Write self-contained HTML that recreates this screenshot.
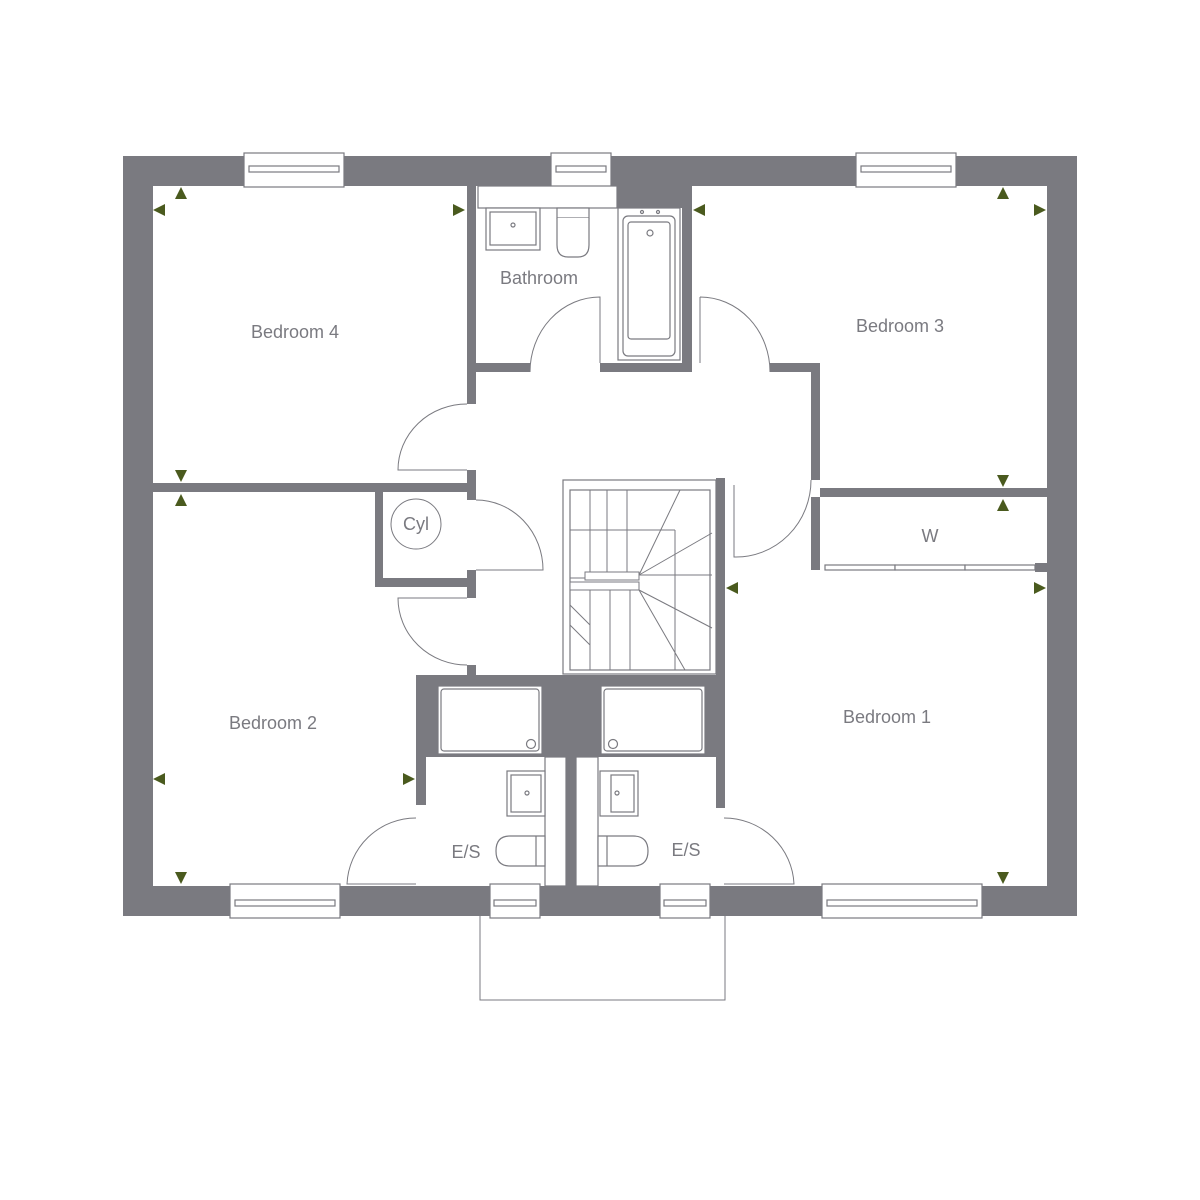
<!DOCTYPE html>
<html><head><meta charset="utf-8"><style>
html,body{margin:0;padding:0;background:#fff}
svg{display:block}
text{font-family:"Liberation Sans",sans-serif;fill:#7a7a80;font-size:18px}
</style></head><body>
<svg width="1200" height="1200" viewBox="0 0 1200 1200">
<g fill="#7a7a80">
<!-- outer walls -->
<rect x="123" y="156" width="954" height="30"/>
<rect x="123" y="886" width="954" height="30"/>
<rect x="123" y="156" width="30" height="760"/>
<rect x="1047" y="156" width="30" height="760"/>
<!-- bed4 / bath wall -->
<rect x="467" y="186" width="9" height="218"/>
<rect x="467" y="470" width="9" height="30"/>
<rect x="467" y="570" width="9" height="28"/>
<rect x="467" y="665" width="9" height="12"/>
<!-- bed4/bed2 divider -->
<rect x="153" y="483" width="323" height="9"/>
<!-- cyl -->
<rect x="375" y="483" width="8" height="104"/>
<rect x="375" y="578" width="101" height="9"/>
<!-- bathroom bottom -->
<rect x="470" y="363" width="60" height="9"/>
<rect x="600" y="363" width="92" height="9"/>
<rect x="617" y="186" width="75" height="22"/>
<rect x="682" y="186" width="10" height="186"/>
<!-- bed3 wall -->
<rect x="770" y="363" width="50" height="9"/>
<rect x="811" y="363" width="9" height="117"/>
<rect x="811" y="497" width="9" height="73"/>
<rect x="820" y="488" width="227" height="9"/>
<rect x="1035" y="563" width="12" height="9"/>
<!-- stair right wall -->
<rect x="716" y="478" width="9" height="330"/>
<!-- ensuite block -->
<rect x="416" y="675" width="308" height="82"/>
<rect x="416" y="675" width="10" height="130"/>
<rect x="566" y="757" width="10" height="129"/>
</g>
<g fill="#fff" stroke="#7a7a80" stroke-width="1.2">
<!-- windows -->
<rect x="244" y="153" width="100" height="34"/><rect x="249" y="166" width="90" height="6"/>
<rect x="551" y="153" width="60" height="34"/><rect x="556" y="166" width="50" height="6"/>
<rect x="856" y="153" width="100" height="34"/><rect x="861" y="166" width="90" height="6"/>
<rect x="230" y="884" width="110" height="34"/><rect x="235" y="900" width="100" height="6"/>
<rect x="490" y="884" width="50" height="34"/><rect x="494" y="900" width="42" height="6"/>
<rect x="660" y="884" width="50" height="34"/><rect x="664" y="900" width="42" height="6"/>
<rect x="822" y="884" width="160" height="34"/><rect x="827" y="900" width="150" height="6"/>
<!-- bathroom fittings -->
<rect x="478" y="186" width="139" height="22"/>
<rect x="486" y="208" width="54" height="42"/><rect x="490" y="212" width="46" height="33"/>
<circle cx="513" cy="225" r="2"/>
<rect x="557" y="208" width="32" height="10"/>
<path d="M557 218 V245 Q557 257 568 257 H578 Q589 257 589 245 V218"/>
<rect x="618" y="208" width="62" height="152"/>
<rect x="623" y="216" width="52" height="140" rx="5"/>
<rect x="628" y="222" width="42" height="117" rx="3"/>
<circle cx="650" cy="233" r="3"/><circle cx="642" cy="212" r="1.5"/><circle cx="658" cy="212" r="1.5"/>
<!-- ensuite fittings -->
<rect x="438" y="686" width="104" height="68"/><rect x="441" y="689" width="98" height="62" rx="3"/><circle cx="531" cy="744" r="4.5"/>
<rect x="601" y="686" width="104" height="68"/><rect x="604" y="689" width="98" height="62" rx="3"/><circle cx="613" cy="744" r="4.5"/>
<rect x="545" y="757" width="21" height="129"/><rect x="576" y="757" width="22" height="129"/>
<rect x="507" y="771" width="38" height="45"/><rect x="511" y="775" width="30" height="37"/><circle cx="527" cy="793" r="2"/>
<rect x="600" y="771" width="38" height="45"/><rect x="611" y="775" width="23" height="37"/><circle cx="617" cy="793" r="2"/>
<path d="M545 836 H510 Q496 836 496 851 Q496 866 510 866 H545 Z"/><line x1="536" y1="836" x2="536" y2="866"/>
<path d="M598 836 H633 Q648 836 648 851 Q648 866 633 866 H598 Z"/><line x1="607" y1="836" x2="607" y2="866"/>
<!-- W sliding doors -->
<rect x="825" y="565" width="70" height="5"/><rect x="895" y="565" width="70" height="5"/><rect x="965" y="565" width="70" height="5"/>
<!-- stairs -->
<rect x="563" y="480" width="153" height="194"/>
<rect x="570" y="490" width="140" height="180"/>
</g>
<g fill="none" stroke="#7a7a80" stroke-width="1">
<line x1="590" y1="490" x2="590" y2="578"/><line x1="607" y1="490" x2="607" y2="578"/><line x1="627" y1="490" x2="627" y2="578"/>
<line x1="570" y1="530" x2="675" y2="530"/><line x1="675" y1="530" x2="675" y2="670"/>
<line x1="639" y1="575" x2="680" y2="490"/><line x1="639" y1="575" x2="712" y2="533"/><line x1="639" y1="575" x2="712" y2="575"/>
<line x1="639" y1="590" x2="712" y2="628"/><line x1="639" y1="590" x2="685" y2="670"/>
<line x1="570" y1="578" x2="639" y2="578"/>
<rect x="585" y="572" width="54" height="8" fill="#fff"/><rect x="570" y="582" width="69" height="8" fill="#fff"/>
<line x1="590" y1="590" x2="590" y2="670"/><line x1="610" y1="590" x2="610" y2="670"/><line x1="630" y1="590" x2="630" y2="670"/>
<line x1="570" y1="605" x2="590" y2="625"/><line x1="570" y1="625" x2="590" y2="645"/>
<!-- doors -->
<path d="M467 404 A69 66 0 0 0 398 470 H467"/>
<path d="M476 500 A67 70 0 0 1 543 570 H476"/>
<path d="M467 665 A69 67 0 0 1 398 598 H467"/>
<path d="M530 372 A70 75 0 0 1 600 297 V363"/>
<path d="M700 297 V363 M700 297 A70 75 0 0 1 770 372"/>
<path d="M811 480 A75 77 0 0 1 734 557 V485"/>
<path d="M416 818 A69 69 0 0 0 347 884 H416"/>
<path d="M724 818 A70 69 0 0 1 794 884 H724"/>
<!-- cyl -->
<circle cx="416" cy="524" r="25"/>
<!-- balcony -->
<path d="M480 916 V1000 H725 V916"/>
</g>
<g fill="#4a5a1e">
<path d="M181 187 l-6 12 h12z"/><path d="M153 210 l12 -6 v12z"/><path d="M465 210 l-12 -6 v12z"/>
<path d="M181 482 l-6 -12 h12z"/><path d="M181 494 l-6 12 h12z"/>
<path d="M693 210 l12 -6 v12z"/><path d="M1003 187 l-6 12 h12z"/><path d="M1046 210 l-12 -6 v12z"/>
<path d="M1003 487 l-6 -12 h12z"/><path d="M1003 499 l-6 12 h12z"/>
<path d="M726 588 l12 -6 v12z"/><path d="M1046 588 l-12 -6 v12z"/>
<path d="M153 779 l12 -6 v12z"/><path d="M415 779 l-12 -6 v12z"/>
<path d="M181 884 l-6 -12 h12z"/><path d="M1003 884 l-6 -12 h12z"/>
</g>
<text x="295" y="338" text-anchor="middle">Bedroom 4</text>
<text x="539" y="284" text-anchor="middle">Bathroom</text>
<text x="900" y="332" text-anchor="middle">Bedroom 3</text>
<text x="416" y="530" text-anchor="middle" font-size="17">Cyl</text>
<text x="930" y="542" text-anchor="middle">W</text>
<text x="273" y="729" text-anchor="middle">Bedroom 2</text>
<text x="887" y="723" text-anchor="middle">Bedroom 1</text>
<text x="466" y="858" text-anchor="middle">E/S</text>
<text x="686" y="856" text-anchor="middle">E/S</text>
</svg>
</body></html>
